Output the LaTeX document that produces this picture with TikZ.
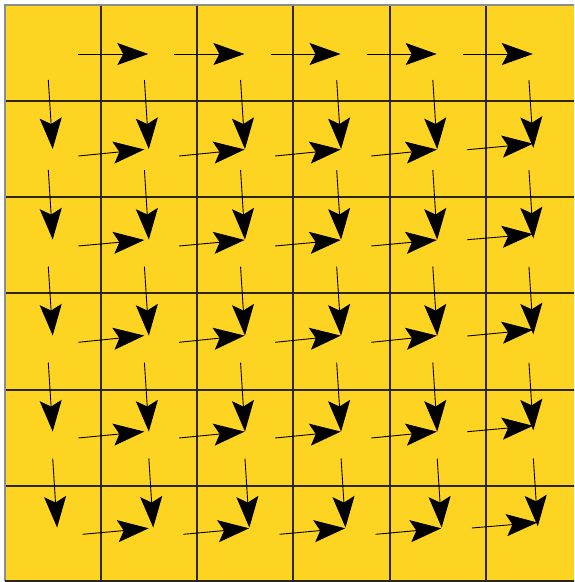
\documentclass[tikz,border=0pt]{standalone}
\usetikzlibrary{arrows.meta}
\definecolor{cellyellow}{RGB}{254,212,34}
\definecolor{gridline}{RGB}{45,38,10}
\begin{document}
\begin{tikzpicture}[x=1pt,y=-1pt,
  gridstyle/.style={draw=gridline,line width=1.7pt},
  borderstyle/.style={draw=black!45,line width=1.7pt},
  arr/.style={draw=black,line width=0.9pt,-{Stealth[length=31pt,width=22pt,inset=6pt]}}]
\useasboundingbox (0,0) rectangle (574,582);
\clip (0,0) rectangle (574,582);
\fill[cellyellow] (5,5) rectangle (581.8,581.8);
% grid
\foreach \p in {101,197,293,390,486}{
  \draw[gridstyle] (\p,5) -- (\p,581);
  \draw[gridstyle] (5,\p) -- (581.8,\p);
}
\draw[borderstyle] (5,581) -- (5,5) -- (581.8,5);
\draw[gridstyle] (5,581) -- (581.8,581);
% vertical arrows
\def\VSY{{80,170,266.7,362.7,458.5}}
\def\VTY{{149,239.5,335.5,431.5,527.5}}
\foreach \i in {0,...,5}{
  \foreach \j in {1,...,5}{
    \pgfmathsetmacro\sx{48.3+96.13*\i+(\j==5)*4.4}
    \pgfmathsetmacro\tx{\sx+4.4}
    \pgfmathsetmacro\sy{\VSY[\j-1]}
    \pgfmathsetmacro\ty{\VTY[\j-1]-(\i==5)*1.2}
    \coordinate (vs-\i-\j) at (\sx,\sy);
    \coordinate (vt-\i-\j) at (\tx,\ty);
    \draw[arr] (vs-\i-\j) -- (vt-\i-\j);
  }
}
% horizontal arrows, top row
\foreach \i in {0,...,4}{
  \coordinate (hs-\i-0) at ({78.3+96.13*\i},54);
  \coordinate (ht-\i-0) at ({148.3+96.13*\i},54);
  \draw[arr] (hs-\i-0) -- (ht-\i-0);
}
% horizontal arrows, other rows
\def\HSY{{0,156,246,342.3,438,534.3}}
\def\HTY{{0,149.5,240,335.6,431.6,528.3}}
\foreach \i in {0,...,4}{
  \foreach \j in {1,...,5}{
    \pgfmathsetmacro\sx{(\i==0 ? 78.3 : 179+96.13*(\i-1))+(\j==5)*4.4}
    \pgfmathsetmacro\tx{(\i==0 ? 144.3 : 244.6+96.13*(\i-1))+(\j==5)*4.4}
    \pgfmathsetmacro\sy{\HSY[\j]-(\i==4)*6.3}
    \pgfmathsetmacro\ty{\HTY[\j]-(\i==4)*5.8}
    \coordinate (hs-\i-\j) at (\sx,\sy);
    \coordinate (ht-\i-\j) at (\tx,\ty);
    \draw[arr] (hs-\i-\j) -- (ht-\i-\j);
  }
}
\end{tikzpicture}
\end{document}
